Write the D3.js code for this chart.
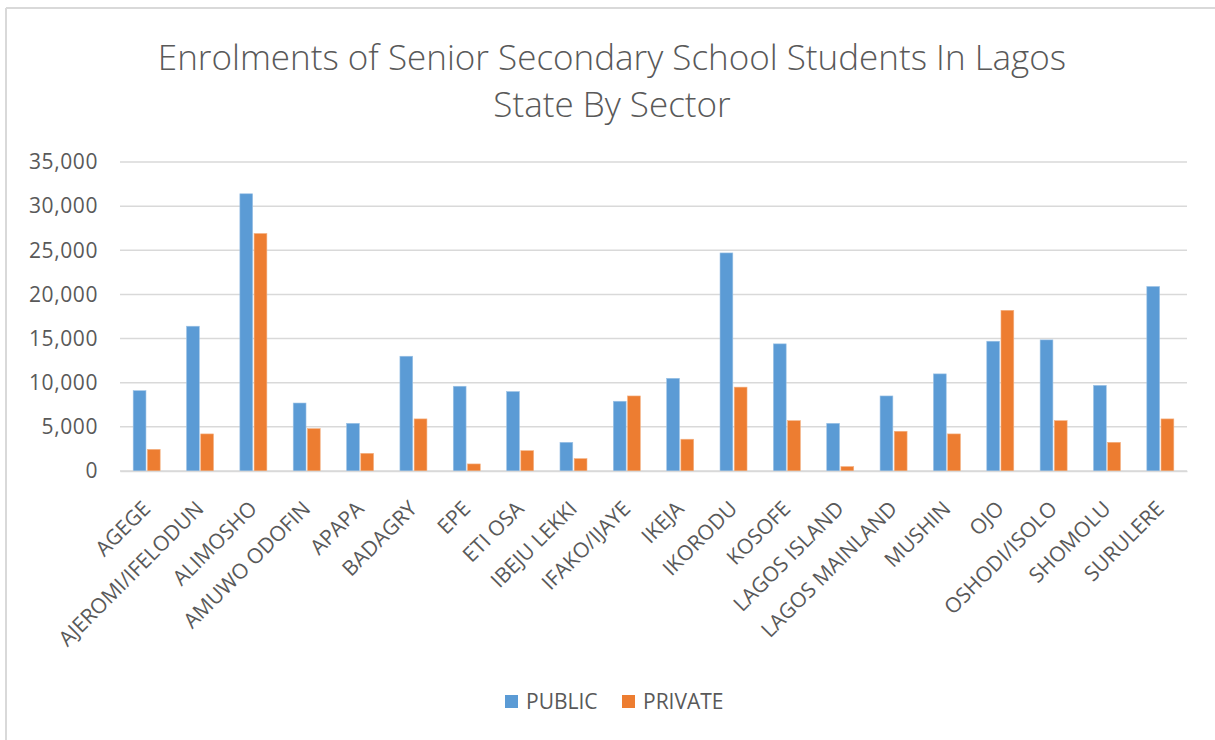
<!DOCTYPE html>
<html>
<head>
<meta charset="utf-8">
<script src="https://cdn.jsdelivr.net/npm/d3@7"></script>
<style>
  html, body { margin: 0; padding: 0; background: #fff; }
  svg { display: block; font-family: "Open Sans", sans-serif; }
</style>
</head>
<body>
<svg id="chart" width="1215" height="740"></svg>
<script>
const categories = ["AGEGE","AJEROMI/IFELODUN","ALIMOSHO","AMUWO ODOFIN","APAPA","BADAGRY","EPE","ETI OSA","IBEJU LEKKI","IFAKO/IJAYE","IKEJA","IKORODU","KOSOFE","LAGOS ISLAND","LAGOS MAINLAND","MUSHIN","OJO","OSHODI/ISOLO","SHOMOLU","SURULERE"];
const publicValues  = [9100,16400,31400,7700,5400,13000,9600,9000,3250,7900,10500,24700,14400,5400,8500,11000,14700,14850,9700,20900];
const privateValues = [2450,4200,26900,4800,2000,5900,800,2300,1400,8500,3600,9500,5700,500,4500,4200,18200,5700,3250,5900];
const seriesNames = ["PUBLIC","PRIVATE"];
const yTicks = [0,5000,10000,15000,20000,25000,30000,35000];
const titleLines = ["Enrolments of Senior Secondary School Students In Lagos","State By Sector"];

const colors = ["#5B9BD5","#ED7D31"];
const svg = d3.select("#chart");
const W = 1215, H = 740;
const plot = {left: 120, right: 1187, top: 162, bottom: 471};

// chart border (top & left visible)
svg.append("line").attr("x1",6).attr("x2",W).attr("y1",8).attr("y2",8).attr("stroke","#D9D9D9").attr("stroke-width",2);
svg.append("line").attr("x1",6).attr("x2",6).attr("y1",8).attr("y2",H).attr("stroke","#D9D9D9").attr("stroke-width",2);

// title
svg.append("g").selectAll("text").data(titleLines).join("text")
  .attr("x", 612).attr("y", (d,i) => 70 + i*47)
  .attr("text-anchor","middle")
  .attr("font-size", 35).attr("font-weight", 300)
  .attr("fill","#595959").text(d => d);

const x0 = d3.scaleBand().domain(categories).range([plot.left, plot.right]).padding(0);
const x1 = d3.scaleBand().domain(seriesNames).range([0, 27]).paddingInner(0.1);
const y = d3.scaleLinear().domain([0,35000]).range([plot.bottom, plot.top]);

// gridlines
svg.append("g").selectAll("line").data(yTicks).join("line")
  .attr("x1", plot.left).attr("x2", plot.right)
  .attr("y1", d => y(d)).attr("y2", d => y(d))
  .attr("stroke","#D9D9D9").attr("stroke-width",1.5);

// y axis labels
const yAxis = d3.axisLeft(y).tickValues(yTicks).tickFormat(d3.format(",")).tickSize(0).tickPadding(0);
const yg = svg.append("g").attr("transform",`translate(98,0)`).call(yAxis);
yg.select(".domain").remove();
yg.selectAll("text").attr("font-size",21).attr("fill","#595959").attr("font-family","Open Sans").attr("letter-spacing",0.6);

// bars
const groups = svg.append("g").selectAll("g").data(categories).join("g")
  .attr("transform", d => `translate(${x0(d) + x0.bandwidth()/2 - 13.5},0)`);
const vals = [publicValues, privateValues];
groups.selectAll("rect").data((d,i) => seriesNames.map((s,k) => ({s, v: vals[k][i], k}))).join("rect")
  .attr("x", d => x1(d.s)).attr("width", x1.bandwidth())
  .attr("y", d => y(d.v)).attr("height", d => y(0) - y(d.v))
  .attr("fill", d => colors[d.k])
  .attr("stroke", d => d.k === 0 ? "#9DC3E6" : "#F4B183").attr("stroke-width", 0.6);

// x axis labels
const xAxis = d3.axisBottom(x0).tickSize(0).tickPadding(0);
const xg = svg.append("g").attr("transform",`translate(0,${plot.bottom})`).call(xAxis);
xg.select(".domain").attr("stroke","#D9D9D9").attr("stroke-width",1.5);
xg.selectAll("text")
  .attr("font-size",21).attr("fill","#595959").attr("font-family","Open Sans")
  .attr("text-anchor","end")
  .attr("transform","translate(5,39) rotate(-45)")
  .attr("dy",0).attr("y",0).attr("x",0);

// legend
const leg = svg.append("g").selectAll("g").data(seriesNames).join("g")
  .attr("transform",(d,i) => `translate(${[505,622][i]},0)`);
leg.append("rect").attr("x",0).attr("y",695).attr("width",13).attr("height",13).attr("fill",(d,i)=>colors[i]);
leg.append("text").attr("x",21).attr("y",702).attr("dy","0.35em")
  .attr("font-size",21).attr("fill","#595959").text(d => d);
</script>
</body>
</html>
